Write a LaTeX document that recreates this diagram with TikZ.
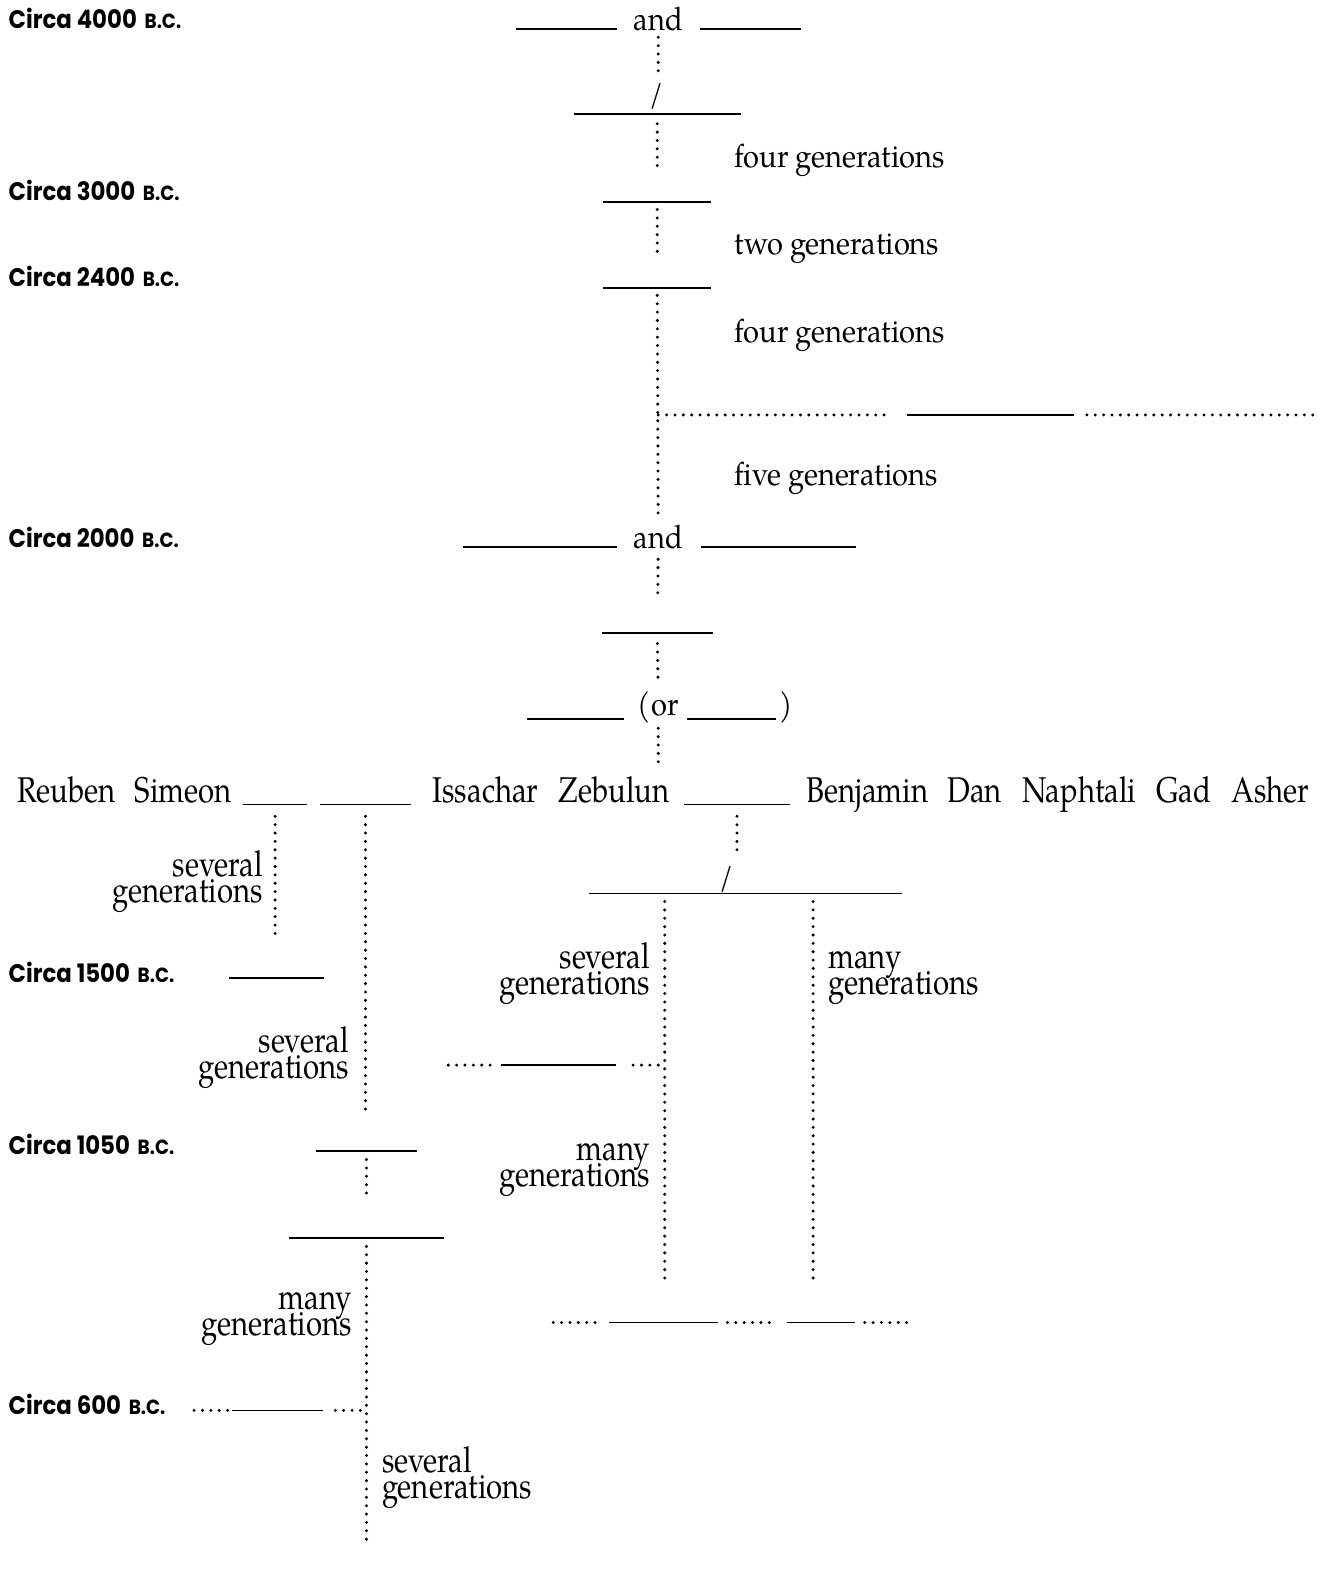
\documentclass[tikz,border=0pt]{standalone}
\usepackage{fontspec}
\setmainfont{TeX Gyre Pagella}
\newfontfamily\widefont[FakeStretch=0.9]{TeX Gyre Pagella}
\newfontfamily\narrowfont[FakeStretch=0.82]{TeX Gyre Pagella}
\newfontfamily\datefont[FakeStretch=0.9]{Poppins}
\usepackage{tikz}
\usetikzlibrary{calc}

\newcommand{\genfont}{\narrowfont\fontsize{12.4}{9}\selectfont\lineskiplimit=-20pt\relax}

\tikzset{
    blank/.style={minimum width=#1*0.35pt, minimum height=0pt, inner sep=0pt},
    rule/.style={line width=0.55pt},
    dots/.style={line width=1.15pt, line cap=round, dash pattern=on 0pt off 2.9pt},
    cut/.style 2 args={shorten <=#1*0.35pt, shorten >=#2*0.35pt},
    word/.style={font=\widefont\fontsize{11.2}{13}\selectfont, inner sep=0pt, anchor=base},
    son/.style={font=\narrowfont\fontsize{12.4}{14}\selectfont, inner sep=0pt, anchor=base west},
    gens/.style={font=\genfont, inner sep=0pt, align=#1},
    date/.style={font=\datefont\bfseries\fontsize{8.8}{10}\selectfont, inner sep=0pt, anchor=base west}
}

\begin{document}
\begin{tikzpicture}[x=0.35pt, y=-0.35pt]

        \useasboundingbox (0,0) rectangle (1309,1568);

        % 1. Dates down the left margin
        \foreach \y/\yr in {28/4000, 199/3000, 284/2400, 542/2000, 973/1500, 1144/1050, 1401/600} {
            \node[date] (c\yr) at (8,\y) {Circa \yr\hspace{1pt} {\fontsize{7.1}{8}\selectfont B.C.}};
        }

        % 2. The main line, all on x = 652
        \node[blank=99] (adam) at (561.5,29) {};
        \node[word] (and1) at (652,30) {and};
        \node[blank=99] (eve) at (743.5,29) {};
        \node[blank=164] (seth) at (651,113) {};
        \node[word] (sl1) at (650,104) {/};
        \node[blank=106] (enoch) at (651,200) {};
        \node[blank=106] (noah) at (651,285) {};
        \node[blank=164] (eber) at (981,411) {};
        \node[blank=152] (abraham) at (535,542) {};
        \node[word] (and2) at (652,543) {and};
        \node[blank=152] (sarah) at (771,542) {};
        \node[blank=109] (isaac) at (651,627) {};
        \node[blank=95] (jacob) at (570.5,712) {};
        \node[word] (orjacob) at (652,709) {(or};
        \node[blank=87] (israel) at (724.5,712) {};
        \node[word] (close) at (779,709) {)};

        % 3. Generation notes beside the main line
        \foreach \y/\txt [count=\i] in {166/four, 252/two, 339/four, 481/five} {
            \node[word, anchor=base west] (gen\i) at (727,\y) {\txt\ generations};
        }

        % 4. The twelve sons
        \foreach \x/\nm in {17/Reuben, 133/Simeon, 428/Issachar, 553/Zebulun,
            798/Benjamin, 938/Dan, 1012/Naphtali, 1145/Gad, 1219/Asher} {
            \node[son] (\nm) at (\x,795) {\nm};
        }
        \node[blank=63] (levi) at (272.5,797) {};
        \node[blank=89] (judah) at (362,797) {};
        \node[blank=104] (joseph) at (730,797) {};

        % 5. Later blanks
        \node[blank=309] (ephraim) at (738.5,885) {};
        \node[word] (sl2) at (720,879) {/};
        \node[blank=93] (moses) at (273.5,969) {};
        \node[blank=113] (joshua) at (553.5,1055) {};
        \node[blank=98] (david) at (363,1140) {};
        \node[blank=152] (solomon) at (363,1226) {};
        \node[blank=107] (tribe1) at (657.5,1310) {};
        \node[blank=66] (tribe2) at (813,1310) {};
        \node[blank=89] (josiah) at (274.5,1397) {};

        % 6. Notes on the lower lines (base = last line)
        \node[gens=right, anchor=base east] (n1) at (261,894) {several\\generations};
        \node[gens=right, anchor=base east] (n2) at (644,985) {several\\generations};
        \node[gens=left, anchor=base west] (n3) at (820,985) {many\\generations};
        \node[gens=right, anchor=base east] (n4) at (346,1068) {several\\generations};
        \node[gens=right, anchor=base east] (n5) at (644,1175) {many\\generations};
        \node[gens=right, anchor=base east] (n6) at (349,1323) {many\\generations};
        \node[gens=left, anchor=base west] (n7) at (378,1484) {several\\generations};

        % 7. Free ends and forks
        \coordinate (fork1) at (652,411);
        \coordinate (far) at (1305,411);
        \coordinate (sons) at (652,760);
        \coordinate (eph) at ($(ephraim.west)+(75,0)$);
        \coordinate (man) at ($(ephraim.west)+(222,0)$);
        \coordinate (fork2) at (659,1055);
        \coordinate (fork3) at (363,1397);
        \coordinate (last) at (363,1530);

        % 8. Solid blanks
        \foreach \b in {adam, eve, seth, enoch, noah, eber, abraham, sarah, isaac, jacob, israel,
            levi, judah, joseph, ephraim, moses, joshua, david, solomon, tribe1, tribe2, josiah} {
            \draw[rule] (\b.west) -- (\b.east);
        }

        % 9. Dotted descent
        \draw[dots, cut={6}{38}] (and1.south) -- (and1.south |- seth.north);
        \draw[dots, cut={9}{32}] (seth.south) -- (enoch.north);
        \draw[dots, cut={7}{35}] (enoch.south) -- (noah.north);
        \draw[dots, cut={7}{9}] (noah.south) -- (and2.north);
        \draw[dots, cut={0}{15}] (fork1) -- (eber.west);
        \draw[dots, cut={13}{0}] (eber.east) -- (far);
        \draw[dots, cut={10}{35}] (and2.south) -- (isaac.north);
        \draw[dots, cut={10}{10}] (isaac.south) -- (orjacob.north);
        \draw[dots, cut={4}{3}] (orjacob.south) -- (sons);

        \draw[dots, cut={11}{43}] (levi.south) -- (levi.south |- moses.north);
        \draw[dots, cut={11}{40}] (judah.south) -- (judah.south |- david.north);
        \draw[dots, cut={8}{43}] (david.south) -- (solomon.north);
        \draw[dots, cut={8}{0}] (solomon.south) -- (last);
        \draw[dots, cut={6}{9}] (fork3) -- (josiah.east);
        \draw[dots, cut={4}{0}] (josiah.west) -- ++(-44,0);

        \draw[dots, cut={11}{40}] (joseph.south) -- (joseph.south |- ephraim.north);
        \draw[dots, cut={8}{0}] (eph) -- ++(0,385);
        \draw[dots, cut={8}{0}] (man) -- ++(0,385);
        \draw[dots, cut={7}{11}] (fork2) -- (joshua.east);
        \draw[dots, cut={11}{0}] (joshua.west) -- ++(-57,0);

        \draw[dots, cut={14}{0}] (tribe1.west) -- ++(-60,0);
        \draw[dots, cut={9}{14}] (tribe1.east) -- (tribe2.west);
        \draw[dots, cut={10}{0}] (tribe2.east) -- ++(56,0);

\end{tikzpicture}
\end{document}
